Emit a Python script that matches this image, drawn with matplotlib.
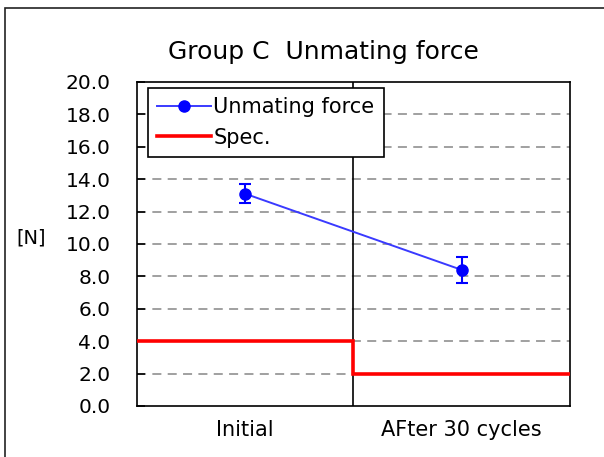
import matplotlib.pyplot as plt
from matplotlib.patches import Rectangle
from matplotlib.lines import Line2D
import numpy as np

categories = ["Initial", "AFter 30 cycles"]
force_mean = [13.1, 8.4]
force_err = [0.6, 0.8]
spec_values = [4.0, 2.0]
y_ticks = [0.0, 2.0, 4.0, 6.0, 8.0, 10.0, 12.0, 14.0, 16.0, 18.0, 20.0]

fig = plt.figure(figsize=(6.04, 4.57), dpi=100)
ax = fig.add_axes([0.2268, 0.1116, 0.7169, 0.709])

# outer frame round the chart
fig.patches.append(Rectangle((5 / 604, -0.05), 1.2, 1 - 8 / 457 + 0.05,
                             transform=fig.transFigure, fill=False,
                             edgecolor='#222222', linewidth=1.2))

blue = '#0000ff'
x = np.arange(len(categories)) + 0.5
ax.errorbar(x, force_mean, yerr=force_err, color='#3a3aff', linewidth=1.4,
            marker='o', markersize=8, markerfacecolor=blue,
            markeredgecolor=blue, ecolor=blue, elinewidth=1.5,
            capsize=4.5, capthick=1.5, zorder=4)

edges = np.arange(len(categories) + 1)
ax.stairs(spec_values, edges, color='#ff0000', linewidth=2.6,
          baseline=None, zorder=3)

ax.axvline(1, color='black', linewidth=1.2, zorder=2)
ax.set_xlim(0, len(categories))
ax.set_ylim(0, 20)
ax.set_yticks(y_ticks)
ax.set_yticklabels(["%.1f" % t for t in y_ticks])
ax.set_xticks(x)
ax.set_xticklabels(categories)
ax.tick_params(axis='x', length=0, pad=10, labelsize=15)
ax.tick_params(axis='y', direction='in', length=6, width=1.2, pad=19, labelsize=14.5)
for t in y_ticks[1:-1]:
    ax.axhline(t, color='#999999', linewidth=1.3, linestyle=(0, (5, 3.5)), zorder=1)
for s in ax.spines.values():
    s.set_linewidth(1.2)

fig.text(323 / 604, 1 - 52 / 457, "Group C  Unmating force", fontsize=18,
         ha='center', va='center')
ax.set_ylabel("[N]", rotation=0, fontsize=14, va='center')
ax.yaxis.set_label_coords(-0.245, 0.52)

handles = [Line2D([], [], color='#3a3aff', linewidth=1.4, marker='o',
                  markersize=8, markerfacecolor=blue, markeredgecolor=blue),
           Line2D([], [], color='#ff0000', linewidth=2.6)]
leg = ax.legend(handles, ["Unmating force", "Spec."], loc='upper left',
                bbox_to_anchor=(0.025, 0.982), fontsize=15,
                fancybox=False, framealpha=1, edgecolor='black',
                handlelength=2.6, handletextpad=0.1, borderpad=0.45,
                labelspacing=0.5, borderaxespad=0.0)
leg.get_frame().set_linewidth(1.2)

fig.savefig("out.png", dpi=100)
